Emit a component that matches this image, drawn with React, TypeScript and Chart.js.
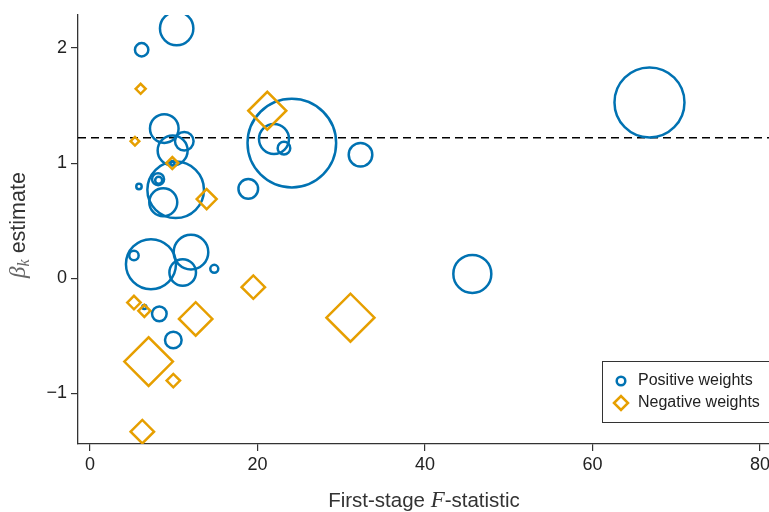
import { useEffect, useRef } from "react";
import { Chart, registerables } from "chart.js";

Chart.register(...registerables);

// Positive-weight estimates (blue circles)
const posF = [10.35, 6.17, 8.87, 11.26, 9.87, 10.23, 8.75, 8.13, 8.2, 5.85, 18.9, 24.1, 21.97, 23.16, 32.3, 7.28, 5.25, 12.06, 11.07, 14.84, 6.49, 8.28, 9.95, 45.65, 66.8, 9.85];
const posBeta = [2.17, 1.985, 1.3, 1.19, 1.11, 0.768, 0.66, 0.86, 0.85, 0.797, 0.776, 1.174, 1.21, 1.13, 1.072, 0.122, 0.197, 0.226, 0.049, 0.081, -0.25, -0.31, -0.537, 0.037, 1.527, 1.0];
const posWeight = [1.67, 0.67, 1.43, 0.93, 1.5, 2.83, 1.4, 0.6, 0.35, 0.27, 0.98, 4.43, 1.5, 0.63, 1.18, 2.5, 0.47, 1.73, 1.33, 0.4, 0.2, 0.73, 0.83, 1.9, 3.5, 0.2];

// Negative-weight estimates (orange diamonds)
const negF = [6.05, 5.37, 9.83, 13.93, 21.17, 5.25, 6.49, 12.62, 19.5, 7.0, 9.95, 6.25, 31.1];
const negBeta = [1.646, 1.19, 1.0, 0.687, 1.455, -0.212, -0.284, -0.354, -0.078, -0.725, -0.89, -1.334, -0.343];
const negWeight = [0.5, 0.43, 0.6, 1.0, 1.9, 0.67, 0.6, 1.67, 1.17, 2.43, 0.67, 1.17, 2.4];

const xTicks = [0, 20, 40, 60, 80];
const yTicks = [-1, 0, 1, 2];
const referenceBeta = 1.22;
const xRange = [-1.43, 81.07];
const yRange = [-1.441, 2.287];

const legendLabels = ["Positive weights", "Negative weights"];

const BLUE = "#0072B2";
const ORANGE = "#E69F00";
const SIZE_SCALE = 10;
const SANS = '"Liberation Sans", Arial, sans-serif';
const SERIF = '"Liberation Serif", "Times New Roman", serif';

function drawParts(ctx: CanvasRenderingContext2D, parts: { t: string; f: string; c: string; dy?: number }[], cx: number, by: number) {
  let total = 0;
  const widths = parts.map((p) => {
    ctx.font = p.f;
    const w = ctx.measureText(p.t).width;
    total += w;
    return w;
  });
  let x = cx - total / 2;
  parts.forEach((p, i) => {
    ctx.font = p.f;
    ctx.fillStyle = p.c;
    ctx.fillText(p.t, x, by + (p.dy || 0));
    x += widths[i];
  });
}

const customText = {
  id: "customText",
  afterDraw(chart: any) {
    const ctx: CanvasRenderingContext2D = chart.ctx;
    const area = chart.chartArea;
    ctx.save();
    ctx.textAlign = "left";
    ctx.textBaseline = "alphabetic";
    // x title
    drawParts(
      ctx,
      [
        { t: "First-stage ", f: `20.5px ${SANS}`, c: "#333" },
        { t: "F", f: `italic 23px ${SERIF}`, c: "#333" },
        { t: "-statistic", f: `20.5px ${SANS}`, c: "#333" },
      ],
      424,
      507
    );
    // y title
    ctx.save();
    ctx.translate(25, 225);
    ctx.rotate(-Math.PI / 2);
    drawParts(
      ctx,
      [
        { t: "β", f: `italic 23px ${SERIF}`, c: "#666" },
        { t: "k", f: `italic 16px ${SERIF}`, c: "#666", dy: 4 },
        { t: " estimate", f: `21.5px ${SANS}`, c: "#333" },
      ],
      0,
      0
    );
    ctx.restore();
    // legend
    const lx = area.right - 167;
    const ly = area.bottom - 83;
    ctx.fillStyle = "#fff";
    ctx.fillRect(lx, ly, 180, 61);
    ctx.strokeStyle = "#333";
    ctx.lineWidth = 1;
    ctx.strokeRect(lx + 0.5, ly + 0.5, 180, 61);
    ctx.lineWidth = 2.5;
    ctx.strokeStyle = BLUE;
    ctx.beginPath();
    ctx.arc(lx + 19, ly + 20, 4.3, 0, Math.PI * 2);
    ctx.stroke();
    ctx.strokeStyle = ORANGE;
    ctx.beginPath();
    const dx = lx + 19, dy = ly + 42, h = 7;
    ctx.moveTo(dx - h, dy);
    ctx.lineTo(dx, dy - h);
    ctx.lineTo(dx + h, dy);
    ctx.lineTo(dx, dy + h);
    ctx.closePath();
    ctx.stroke();
    ctx.font = `16px ${SANS}`;
    ctx.fillStyle = "#222";
    ctx.textBaseline = "middle";
    ctx.fillText(legendLabels[0], lx + 36, ly + 20);
    ctx.fillText(legendLabels[1], lx + 36, ly + 42);
    ctx.restore();
  },
};

export default function App() {
  const ref = useRef<HTMLCanvasElement>(null);
  useEffect(() => {
    document.body.style.margin = "0";
    const canvas = ref.current!;
    const chart = new Chart(canvas, {
      type: "scatter",
      data: {
        datasets: [
          {
            label: legendLabels[1],
            data: negF.map((x, i) => ({ x, y: negBeta[i] })),
            pointStyle: "rectRot",
            pointRadius: negWeight.map((w) => w * SIZE_SCALE),
            borderColor: ORANGE,
            backgroundColor: "rgba(0,0,0,0)",
            pointBorderWidth: 2.5,
            order: 0,
          } as any,
          {
            label: legendLabels[0],
            data: posF.map((x, i) => ({ x, y: posBeta[i] })),
            pointStyle: "circle",
            pointRadius: posWeight.map((w) => w * SIZE_SCALE),
            borderColor: BLUE,
            backgroundColor: "rgba(0,0,0,0)",
            pointBorderWidth: 2.5,
            order: 1,
          } as any,
          {
            type: "line",
            label: "ref",
            data: [
              { x: xRange[0], y: referenceBeta },
              { x: xRange[1], y: referenceBeta },
            ],
            borderColor: "#000",
            borderWidth: 1.5,
            borderDash: [8, 5],
            pointRadius: 0,
            order: 2,
          } as any,
        ],
      },
      options: {
        animation: false,
        responsive: false,
        devicePixelRatio: 1,
        layout: { autoPadding: false, padding: { top: 15, right: 0, left: 0, bottom: 0 } },
        plugins: { legend: { display: false }, tooltip: { enabled: false } },
        scales: {
          x: {
            type: "linear",
            min: xRange[0],
            max: xRange[1],
            afterBuildTicks: (s: any) => {
              s.ticks = xTicks.map((v) => ({ value: v }));
            },
            afterFit: (s: any) => {
              s.height = 68;
              s.paddingLeft = 0;
              s.paddingRight = 0;
            },
            grid: { drawOnChartArea: false, tickLength: 7, color: "#333", lineWidth: 1.2 },
            border: { color: "#333", width: 1.3 },
            ticks: { font: { size: 18, family: SANS }, color: "#222", padding: 3, maxRotation: 0, autoSkip: false },
          },
          y: {
            type: "linear",
            min: yRange[0],
            max: yRange[1],
            afterBuildTicks: (s: any) => {
              s.ticks = yTicks.map((v) => ({ value: v }));
            },
            afterFit: (s: any) => {
              s.width = 78;
              s.paddingTop = 0;
              s.paddingBottom = 0;
            },
            grid: { drawOnChartArea: false, tickLength: 7, color: "#333", lineWidth: 1.2 },
            border: { color: "#333", width: 1.3 },
            ticks: {
              font: { size: 18, family: SANS },
              color: "#222",
              padding: 4,
              autoSkip: false,
              callback: (v: any) => (v < 0 ? "\u2212" + Math.abs(v) : String(v)),
            },
          },
        },
      },
      plugins: [customText],
    });
    return () => chart.destroy();
  }, []);
  return (
    <div style={{ position: "fixed", left: 0, top: 0, width: 769, height: 512 }}>
      <canvas ref={ref} width={769} height={512} style={{ width: 769, height: 512 }} />
    </div>
  );
}
